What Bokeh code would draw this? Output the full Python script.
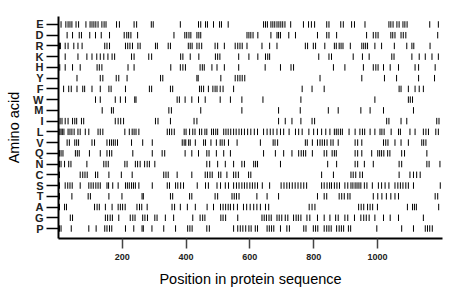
from bokeh.plotting import figure
from bokeh.models import Range1d, FixedTicker, ColumnDataSource
from bokeh.embed import file_html
from bokeh.resources import INLINE

amino_acids = ["E", "D", "R", "K", "H", "Y", "F", "W", "M", "I",
               "L", "V", "Q", "N", "C", "S", "T", "A", "G", "P"]

pos_E = [8, 23, 30, 36, 42, 55, 63, 86, 99, 105, 111, 117, 124, 136, 143, 149, 182, 191, 237, 245, 291, 297, 382,
         439, 446, 461, 467, 486, 505, 511, 532, 643, 649, 655, 666, 672, 678, 685, 691, 697, 703, 710, 728, 768, 784,
         793, 803, 841, 848, 885, 893, 919, 928, 961, 1036, 1042, 1049, 1061, 1068, 1080, 1086, 1093, 1164, 1191]
pos_D = [27, 44, 65, 72, 98, 116, 134, 160, 206, 214, 220, 227, 248, 362, 396, 402, 409, 415, 434, 440, 446, 591, 597,
         603, 610, 625, 666, 685, 690, 696, 722, 743, 812, 841, 848, 872, 966, 987, 995, 1002, 1042, 1048, 1055, 1074,
         1081, 1089, 1189]
pos_R = [3, 6, 21, 30, 48, 61, 74, 145, 152, 160, 210, 217, 224, 232, 249, 256, 304, 310, 344, 351, 407, 413, 419, 434,
         441, 449, 491, 499, 520, 554, 562, 569, 576, 591, 638, 662, 685, 774, 781, 799, 806, 835, 865, 871, 880, 886,
         892, 915, 951, 957, 963, 969, 992, 1013, 1053, 1092, 1108, 1114, 1165]
pos_K = [21, 61, 89, 105, 120, 131, 142, 155, 168, 176, 229, 237, 283, 292, 383, 390, 413, 440, 492, 499, 506, 565,
         597, 625, 649, 656, 662, 816, 848, 856, 924, 953, 974, 1045, 1052, 1108, 1131, 1150, 1171, 1191]
pos_H = [4, 21, 44, 68, 121, 128, 136, 218, 237, 352, 382, 390, 398, 444, 451, 457, 481, 497, 520, 565, 648, 696, 729,
         737, 862, 898, 956, 987, 995, 1002, 1019, 1040, 1066, 1118, 1129, 1181]
pos_Y = [58, 131, 139, 181, 189, 215, 320, 327, 434, 438, 509, 554, 562, 569, 576, 584, 820, 951, 1022, 1060, 1129, 1179]
pos_F = [16, 32, 40, 58, 76, 82, 105, 131, 158, 165, 210, 285, 292, 351, 358, 442, 448, 455, 470, 484, 491, 497, 507,
         516, 549, 764, 795, 833, 1068, 1074, 1097, 1118, 1131, 1144]
pos_W = [116, 131, 178, 194, 210, 239, 243, 372, 379, 397, 418, 439, 460, 507, 539, 575, 641, 760, 992, 1097, 1103,
         1110]
pos_M = [137, 166, 172, 346, 354, 446, 575, 690, 758, 846, 877, 948, 977, 1019, 1113]
pos_I = [5, 11, 21, 30, 44, 51, 57, 72, 79, 178, 187, 195, 204, 304, 312, 351, 425, 434, 690, 711, 732, 760, 795, 803,
         1029, 1036, 1074, 1092, 1186, 1193]
pos_L = [4, 8, 12, 17, 30, 36, 42, 49, 61, 68, 84, 95, 124, 131, 139, 208, 222, 231, 237, 243, 252, 341, 348, 355, 363,
         394, 400, 411, 421, 428, 442, 449, 459, 465, 480, 486, 493, 499, 518, 525, 532, 540, 549, 557, 566, 574, 583,
         593, 603, 614, 624, 643, 654, 664, 673, 685, 696, 706, 723, 743, 753, 764, 785, 800, 812, 825, 838, 851, 865,
         871, 877, 884, 890, 911, 930, 945, 953, 960, 977, 992, 1008, 1014, 1021, 1043, 1066, 1072, 1102, 1118, 1144,
         1152, 1160, 1183, 1191]
pos_V = [27, 34, 51, 57, 63, 105, 113, 152, 160, 166, 172, 178, 185, 229, 264, 294, 388, 394, 399, 408, 413, 429, 455,
         461, 478, 495, 507, 513, 520, 533, 560, 633, 673, 679, 687, 774, 780, 796, 812, 820, 827, 834, 842, 854, 861,
         877, 930, 938, 951, 1019, 1026, 1033, 1055, 1074, 1097, 1139, 1145, 1152]
pos_Q = [3, 8, 14, 53, 59, 65, 97, 131, 152, 160, 167, 233, 294, 325, 333, 397, 418, 439, 465, 472, 495, 518, 539, 643,
         680, 706, 732, 753, 761, 768, 775, 796, 833, 841, 858, 865, 871, 930, 938, 951, 982, 1001, 1007, 1013, 1020,
         1032, 1039, 1076, 1085, 1155]
pos_N = [3, 8, 19, 32, 39, 89, 142, 149, 156, 208, 215, 241, 248, 256, 270, 278, 285, 302, 465, 474, 499, 523, 549,
         575, 583, 612, 618, 624, 696, 844, 872, 930, 938, 959, 987, 1068, 1076, 1155, 1162, 1196]
pos_C = [3, 68, 76, 83, 90, 116, 123, 158, 197, 231, 330, 337, 344, 372, 418, 460, 467, 475, 482, 502, 509, 528, 549,
         556, 564, 596, 603, 825, 862, 917, 924, 932, 945, 953, 1068, 1102, 1113, 1123, 1134]
pos_S = [3, 21, 29, 36, 43, 68, 95, 102, 109, 117, 124, 131, 152, 157, 170, 187, 210, 216, 222, 229, 235, 241, 252,
         294, 341, 348, 367, 374, 383, 392, 435, 461, 470, 497, 508, 523, 533, 549, 558, 566, 575, 583, 591, 600, 608,
         616, 624, 639, 662, 698, 707, 716, 724, 733, 742, 751, 760, 769, 778, 825, 833, 842, 850, 856, 865, 873, 881,
         898, 907, 917, 923, 930, 936, 942, 948, 959, 967, 984, 1003, 1013, 1024, 1036, 1055, 1064, 1072, 1080, 1089,
         1097, 1113, 1197]
pos_T = [3, 42, 93, 100, 158, 199, 262, 266, 351, 358, 411, 418, 491, 499, 544, 551, 558, 566, 622, 654, 690, 812, 833,
         841, 880, 888, 896, 907, 914, 987, 1001, 1014, 1028, 1042, 1055, 1066, 1181, 1189]
pos_A = [3, 19, 25, 113, 121, 128, 147, 168, 187, 194, 201, 209, 246, 254, 261, 278, 356, 364, 382, 404, 429, 466,
         486, 508, 516, 524, 532, 539, 549, 561, 580, 590, 601, 612, 622, 633, 649, 659, 786, 795, 804, 941, 949, 957,
         969, 977, 985, 1000, 1094, 1110, 1116, 1122, 1192]
pos_G = [37, 44, 147, 154, 162, 169, 189, 225, 233, 240, 264, 271, 279, 302, 309, 335, 361, 421, 444, 452, 459, 509,
         516, 524, 562, 638, 645, 652, 660, 667, 685, 692, 700, 711, 719, 737, 745, 752, 760, 779, 788, 812, 833, 851,
         869, 877, 898, 907, 928, 948, 957, 965, 974, 992, 1019, 1040, 1066, 1144]
pos_P = [3, 8, 40, 95, 118, 145, 152, 160, 167, 210, 236, 262, 266, 293, 330, 367, 405, 412, 419, 465, 473, 549, 562,
         570, 578, 587, 597, 604, 617, 624, 654, 661, 668, 675, 696, 716, 724, 769, 776, 799, 806, 813, 833, 841, 848,
         855, 872, 880, 887, 894, 909, 916, 998, 1076, 1113, 1150, 1157, 1164, 1172]

x_ticks = [200, 400, 600, 800, 1000]
x_title = "Position in protein sequence"
y_title = "Amino acid"

all_positions = [pos_E, pos_D, pos_R, pos_K, pos_H, pos_Y, pos_F, pos_W, pos_M, pos_I,
                 pos_L, pos_V, pos_Q, pos_N, pos_C, pos_S, pos_T, pos_A, pos_G, pos_P]

n = len(amino_acids)
xs, y0s, y1s = [], [], []
half = 0.3
for i, plist in enumerate(all_positions):
    row = n - 1 - i
    for pos in plist:
        xs.append(pos)
        y0s.append(row - half)
        y1s.append(row + half)

src = ColumnDataSource(data=dict(x=xs, y0=y0s, y1=y1s))

p = figure(width=452, height=291, x_range=Range1d(0, 1204), y_range=Range1d(-0.93, 19.74),
           output_backend="svg", toolbar_location=None,
           min_border_left=58, min_border_right=10, min_border_top=16, min_border_bottom=53)
p.segment(x0="x", y0="y0", x1="x", y1="y1", source=src, line_color="black", line_width=1)

p.outline_line_color = None
p.grid.visible = False
p.background_fill_color = "white"
p.border_fill_color = "white"

font = "Liberation Sans"

xa = p.xaxis[0]
xa.ticker = FixedTicker(ticks=x_ticks)
xa.axis_line_color = "black"
xa.axis_line_width = 2
xa.major_tick_line_color = "#444444"
xa.major_tick_line_width = 1.5
xa.major_tick_in = 0
xa.major_tick_out = 10
xa.minor_tick_line_color = None
xa.major_label_text_font = font
xa.major_label_text_font_size = "9px"
xa.major_label_text_font_style = "bold"
xa.major_label_text_color = "#222222"
xa.major_label_standoff = 5
xa.axis_label = x_title
xa.axis_label_text_font = font
xa.axis_label_text_font_size = "14.5px"
xa.axis_label_text_font_style = "normal"
xa.axis_label_text_color = "black"
xa.axis_label_standoff = 8

ya = p.yaxis[0]
ya.ticker = FixedTicker(ticks=list(range(n)))
ya.major_label_overrides = {n - 1 - i: aa for i, aa in enumerate(amino_acids)}
ya.axis_line_color = "black"
ya.axis_line_width = 2
ya.major_tick_line_color = "black"
ya.major_tick_line_width = 1.5
ya.major_tick_in = 0
ya.major_tick_out = 12
ya.minor_tick_line_color = None
ya.major_label_text_font = font
ya.major_label_text_font_size = "11px"
ya.major_label_text_font_style = "bold"
ya.major_label_text_color = "#222222"
ya.major_label_standoff = 3
ya.axis_label = y_title
ya.axis_label_text_font = font
ya.axis_label_text_font_size = "14.5px"
ya.axis_label_text_font_style = "normal"
ya.axis_label_text_color = "black"
ya.axis_label_standoff = 8

open("out.html", "w").write(file_html(p, INLINE))
